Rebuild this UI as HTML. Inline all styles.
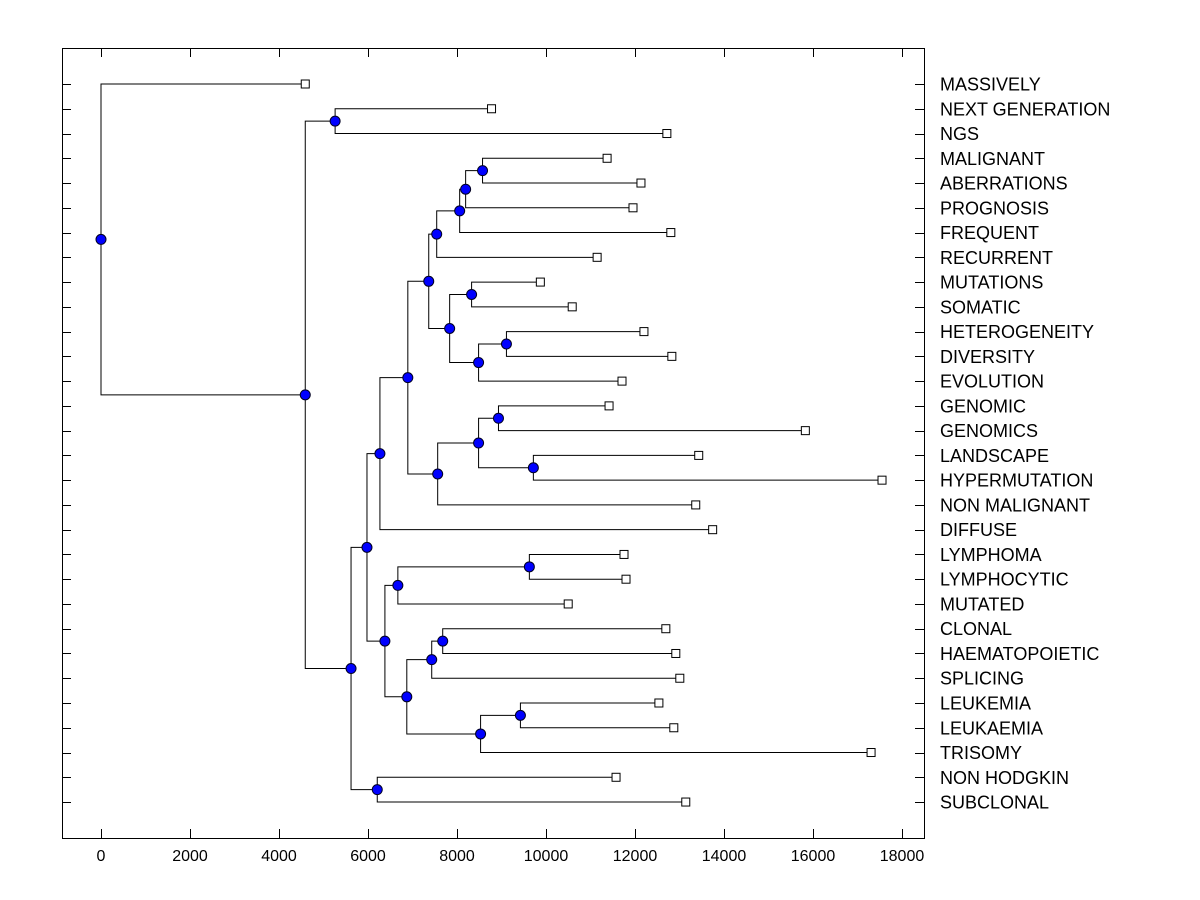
<!DOCTYPE html>
<html><head><meta charset="utf-8"><style>
html,body{margin:0;padding:0;background:#fff;}
svg{display:block;font-family:"Liberation Sans",Arial,sans-serif;}
</style></head><body>
<svg id="chart" width="1200" height="900" xmlns="http://www.w3.org/2000/svg"></svg>
<script>
const labels = ["MASSIVELY","NEXT GENERATION","NGS","MALIGNANT","ABERRATIONS","PROGNOSIS","FREQUENT","RECURRENT","MUTATIONS","SOMATIC","HETEROGENEITY","DIVERSITY","EVOLUTION","GENOMIC","GENOMICS","LANDSCAPE","HYPERMUTATION","NON MALIGNANT","DIFFUSE","LYMPHOMA","LYMPHOCYTIC","MUTATED","CLONAL","HAEMATOPOIETIC","SPLICING","LEUKEMIA","LEUKAEMIA","TRISOMY","NON HODGKIN","SUBCLONAL"];
const leafValues = [4590,8776,12716,11373,12134,11955,12805,11149,9873,10589,12201,12828,11708,11417,15828,13432,17551,13365,13745,11753,11798,10499,12693,12917,13007,12537,12872,17305,11574,13141];
// merges: [childA, childB, height]; leaf indices as "Lk", node ids as "Nk"
const merges = [
 ["L1","L2",5261],
 ["L3","L4",8574],
 ["N1","L5",8194],
 ["N2","L6",8060],
 ["N3","L7",7544],
 ["L8","L9",8328],
 ["L10","L11",9111],
 ["N6","L12",8485],
 ["N5","N7",7835],
 ["N4","N8",7365],
 ["L13","L14",8932],
 ["L15","L16",9716],
 ["N10","N11",8485],
 ["N12","L17",7566],
 ["N9","N13",6895],
 ["N14","L18",6268],
 ["L19","L20",9626],
 ["N16","L21",6671],
 ["L22","L23",7679],
 ["N18","L24",7432],
 ["L25","L26",9425],
 ["N20","L27",8530],
 ["N19","N21",6872],
 ["N17","N22",6380],
 ["N15","N23",5977],
 ["L28","L29",6208],
 ["N24","N25",5619],
 ["N0","N26",4590],
 ["L0","N27",0]
];
const xTicks = [0,2000,4000,6000,8000,10000,12000,14000,16000,18000];

const svg = document.getElementById('chart');
const NS = "http://www.w3.org/2000/svg";
const L=62,R=924,T=48,B=838;
const X = v => 101 + v*0.0445;
const Y = i => 84 + i*24.76;
function mk(tag, attrs, parent){const e=document.createElementNS(NS,tag);for(const k in attrs)e.setAttribute(k,attrs[k]);(parent||svg).appendChild(e);return e;}

const frame = mk('rect',{x:L+0.5,y:T+0.5,width:R-L,height:B-T,fill:'none',stroke:'#000','stroke-width':1});



const axis = mk('g',{});


xTicks.forEach(t=>{
  const x=Math.round(X(t))+0.5;
  mk('line',{x1:x,x2:x,y1:B,y2:B-9,stroke:'#000'},axis);
  mk('line',{x1:x,x2:x,y1:T,y2:T+9,stroke:'#000'},axis);
  const tx=mk('text',{x:X(t),y:B+23,'text-anchor':'middle','font-size':16,fill:'#000'},axis);
  tx.textContent=t;
  
  
});

const pos = {};
labels.forEach((lab,i)=>{
  pos['L'+i]={x:X(leafValues[i]),y:Y(i)};
  const y=Math.round(Y(i))+0.5;
  mk('line',{x1:L,x2:L+9,y1:y,y2:y,stroke:'#000'});
  mk('line',{x1:R-9,x2:R,y1:y,y2:y,stroke:'#000'});
  const tx=mk('text',{x:940,y:Y(i)+6.5,'font-size':18,fill:'#000'});
  tx.textContent=lab;
  
  
});

const linesG = mk('g',{fill:'none',stroke:'#000','stroke-width':1});


const nodes=[];
merges.forEach((m,k)=>{
  const a=pos[m[0]], b=pos[m[1]];
  const x=X(m[2]), y=(a.y+b.y)/2;
  pos['N'+k]={x:x,y:y};
  mk('path',{d:`M${a.x},${a.y}H${x}V${b.y}H${b.x}`},linesG);
  nodes.push({x:x,y:y});
});
labels.forEach((lab,i)=>{
  const p=pos['L'+i];
  const r=mk('rect',{x:p.x-4,y:p.y-4,width:8,height:8,fill:'#fff',stroke:'#000'});
  
  
});
nodes.forEach(n=>{
  const c=mk('circle',{cx:n.x,cy:n.y,r:5,fill:'#0000ff',stroke:'#000022','stroke-width':1});
  
  
});
</script>
</body></html>
